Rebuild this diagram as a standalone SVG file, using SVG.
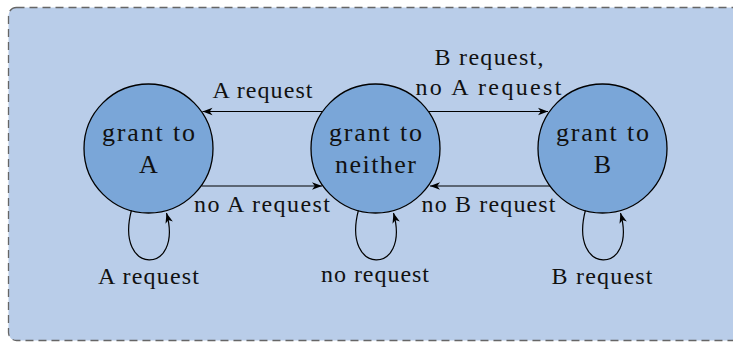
<svg xmlns="http://www.w3.org/2000/svg" width="733" height="343" viewBox="0 0 733 343">
<defs>
<marker id="ah" viewBox="-11 -5 12 10" markerWidth="12" markerHeight="10" refX="0" refY="0" orient="auto" markerUnits="userSpaceOnUse">
<path d="M0,0 L-10,-3.8 L-7.2,0 L-10,3.8 Z" fill="#000"/>
</marker>
</defs>
<style>
.bg{fill:#b9cde9;stroke:#666;stroke-width:1.3;stroke-dasharray:8 5}
.st{fill:#7aa6d8;stroke:#000;stroke-width:1.3}
.nt{font-family:"Liberation Serif",serif;font-size:26px;fill:#111;text-anchor:middle}
.lb{font-family:"Liberation Serif",serif;font-size:24px;fill:#111;text-anchor:middle}
.ed{fill:none;stroke:#000;stroke-width:1.2;marker-end:url(#ah)}
</style>
<rect class="bg" x="8.5" y="7.5" width="770" height="333" rx="8"/>
<g id="connectors">
<path class="ed" d="M322.5,111.5 L202.5,111.5"/>
<path class="ed" d="M201.5,186 L322,186"/>
<path class="ed" d="M428.5,111.5 L548,111.5"/>
<path class="ed" d="M550,186 L430,186"/>
<path class="ed" d="M131.5,210 C114,276 184,276 166.5,213"/>
<path class="ed" d="M358.5,210 C341,276 411,276 393.5,213"/>
<path class="ed" d="M585.5,210 C568,276 638,276 620.5,213"/>
<text class="lb" x="262.5" y="97.5" textLength="100" lengthAdjust="spacing">A request</text>
<text class="lb" x="262" y="211.5" textLength="136" lengthAdjust="spacing">no A request</text>
<text class="lb" x="489" y="65" textLength="109" lengthAdjust="spacing">B request,</text>
<text class="lb" x="488.5" y="95" textLength="146" lengthAdjust="spacing">no A request</text>
<text class="lb" x="488.5" y="211.5" textLength="134" lengthAdjust="spacing">no B request</text>
<text class="lb" x="148.5" y="284" textLength="101" lengthAdjust="spacing">A request</text>
<text class="lb" x="375" y="282" textLength="108" lengthAdjust="spacing">no request</text>
<text class="lb" x="602" y="284" textLength="101" lengthAdjust="spacing">B request</text>
</g>
<g id="grantA">
<circle class="st" cx="148.5" cy="148.5" r="64.5"/>
<text class="nt" x="148.5" y="141" textLength="93" lengthAdjust="spacing">grant to</text>
<text class="nt" x="148.5" y="172.5">A</text>
</g>
<g id="grantNeither">
<circle class="st" cx="375.5" cy="148.5" r="64.5"/>
<text class="nt" x="375.5" y="141" textLength="93" lengthAdjust="spacing">grant to</text>
<text class="nt" x="375.5" y="172.5" textLength="81" lengthAdjust="spacing">neither</text>
</g>
<g id="grantB">
<circle class="st" cx="602.5" cy="148.5" r="64.5"/>
<text class="nt" x="602.5" y="141" textLength="93" lengthAdjust="spacing">grant to</text>
<text class="nt" x="602.5" y="172.5">B</text>
</g>
</svg>
